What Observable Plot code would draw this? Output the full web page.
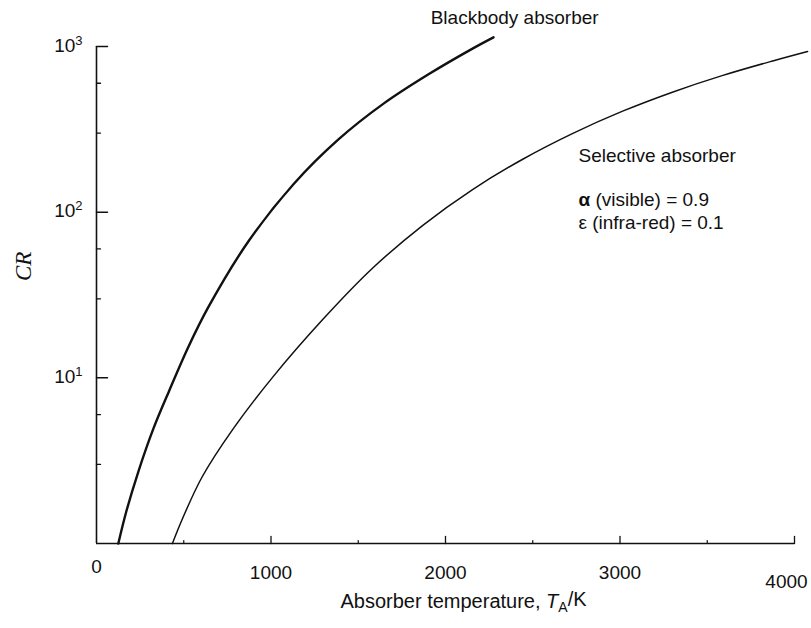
<!DOCTYPE html>
<html><head><meta charset="utf-8">
<script src="https://cdn.jsdelivr.net/npm/d3@7"></script>
<script src="https://cdn.jsdelivr.net/npm/@observablehq/plot@0.6"></script>
<style>body{margin:0;background:#fff} svg{display:block}</style>
</head><body><div id="chart"></div>
<script>
// Blackbody absorber curve (T in K, concentration ratio CR)
const blackT  = [125, 170, 240, 325, 415, 527, 640, 870, 1130, 1385, 1645, 1905, 2160, 2275];
const blackCR = [1, 1.55, 2.72, 4.9, 8.28, 15.4, 26.6, 66.5, 148, 274, 452, 682, 978, 1136];
// Selective absorber curve
const selT  = [435, 495, 605, 780, 1010, 1295, 1580, 1870, 2155, 2440, 2730, 3015, 3300, 3585, 3875, 4075];
const selCR = [1, 1.43, 2.52, 4.87, 10.1, 22.4, 45.7, 83.3, 137, 208, 299, 407, 530, 667, 818, 933];

const xMajor = [1000, 2000, 3000, 4000];
const xMinor = [500, 1500, 2500, 3500];
const yMajor = [10, 100, 1000];
const yMinor = [3, 6, 30, 60, 300, 600];
const xTickValues = [0, 1000, 2000, 3000, 4000];
const xTickLabels = ["0", "1000", "2000", "3000", "4000"];
const yTickValues = [10, 100, 1000];
const yTickLabels = ["10^1", "10^2", "10^3"];

const black = blackT.map((t, i) => ({T: t, CR: blackCR[i]}));
const sel = selT.map((t, i) => ({T: t, CR: selCR[i]}));
const xLab = xTickValues.map((v, i) => ({v, s: xTickLabels[i]}));
const yLab = yTickValues.map((v, i) => ({v, s: yTickLabels[i]}));

const tickShape = {draw(ctx, l) { ctx.moveTo(0, 0); ctx.lineTo(0, -l); }};
const ink = "#111";

const plot = Plot.plot({
  width: 811, height: 628,
  marginLeft: 96, marginRight: 17, marginTop: 46, marginBottom: 85,
  style: {fontFamily: "'Liberation Sans', Arial, Helvetica, sans-serif", fontSize: "19px", background: "#fff", color: ink},
  x: {domain: [0, 4000], axis: null},
  y: {type: "log", domain: [1, 1000], axis: null},
  marks: [
    Plot.ruleX([0], {stroke: ink, strokeWidth: 1.6}),
    Plot.ruleY([1], {stroke: ink, strokeWidth: 1.6}),
    Plot.vector(yMajor, {x: 0, y: d => d, length: 11, rotate: 90, anchor: "start", shape: tickShape, stroke: ink, strokeWidth: 1.5}),
    Plot.vector(yMinor, {x: 0, y: d => d, length: 4, rotate: 90, anchor: "start", shape: tickShape, stroke: ink, strokeWidth: 1.3}),
    Plot.vector(xMajor, {x: d => d, y: 1, length: 7, rotate: 0, anchor: "start", shape: tickShape, stroke: ink, strokeWidth: 1.3}),
    Plot.vector(xMinor, {x: d => d, y: 1, length: 3, rotate: 0, anchor: "start", shape: tickShape, stroke: ink, strokeWidth: 1.2}),
    Plot.line(black, {x: "T", y: "CR", curve: "catmull-rom", stroke: ink, strokeWidth: 2.4}),
    Plot.line(sel, {x: "T", y: "CR", curve: "catmull-rom", stroke: ink, strokeWidth: 1.5}),
    // tick labels
    Plot.text(xLab.slice(0, 1), {x: "v", y: 1, text: "s", dy: 23, fill: ink}),
    Plot.text(xLab.slice(1, 4), {x: "v", y: 1, text: "s", dy: 29, fill: ink}),
    Plot.text(xLab.slice(4), {x: "v", y: 1, text: "s", dy: 38, dx: -8, fill: ink}),
    Plot.text(yLab, {x: 0, y: "v", text: "s", textAnchor: "end", dx: -14, dy: -1, fill: ink}),
    // axis titles
    Plot.text(["Absorber temperature, T_A/K"], {frameAnchor: "bottom", dx: 18, dy: 64, fontSize: 20, fill: ink}),
    Plot.text(["CR"], {frameAnchor: "left", dx: -73, dy: -14, rotate: -90, fontFamily: "'Liberation Serif', 'DejaVu Serif', serif", fontStyle: "italic", fontSize: 23, fill: ink}),
    // annotations
    Plot.text(["Blackbody absorber"], {x: 1915, y: 1490, textAnchor: "start", fill: ink}),
    Plot.text(["Selective absorber"], {x: 2762, y: 220, textAnchor: "start", fill: ink}),
    Plot.text(["\u03B1 (visible) = 0.9"], {x: 2762, y: 119, textAnchor: "start", fill: ink}),
    Plot.text(["\u03B5 (infra-red) = 0.1"], {x: 2762, y: 86, textAnchor: "start", fill: ink})
  ]
});

d3.select(plot).selectAll("text").each(function() {
  const t = this.textContent;
  const sel = d3.select(this);
  if (t === "Absorber temperature, T_A/K") {
    sel.text(null);
    sel.append("tspan").text("Absorber temperature, ");
    sel.append("tspan").attr("font-style", "italic").text("T");
    sel.append("tspan").attr("font-size", "14px").attr("dy", "0.3em").text("A");
    sel.append("tspan").attr("dy", "-0.3em").text("/K");
  } else if (/^10\^\d$/.test(t)) {
    sel.text(null);
    sel.append("tspan").text("10");
    sel.append("tspan").attr("font-size", "13px").attr("dy", "-7").text(t.slice(3));
  } else if (t.startsWith("\u03B1")) {
    sel.text(null);
    sel.append("tspan").attr("font-weight", "bold").text("\u03B1");
    sel.append("tspan").text(t.slice(1));
  }
});

document.getElementById("chart").appendChild(plot);
</script>
</body></html>
